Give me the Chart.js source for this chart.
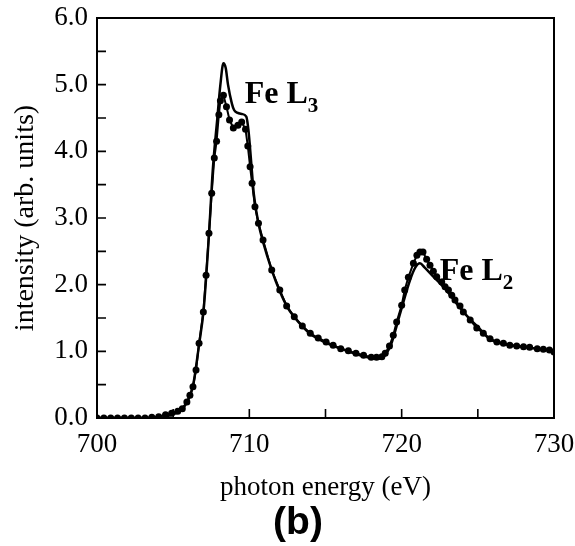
<!DOCTYPE html>
<html>
<head>
<meta charset="utf-8">
<script src="https://cdn.jsdelivr.net/npm/chart.js@4/dist/chart.umd.min.js"></script>
<style>
  html, body { margin: 0; padding: 0; background: #fff; }
  #spectrum { display: block; }
</style>
</head>
<body>
<canvas id="spectrum" width="575" height="546"></canvas>
<script>
// measured XAS spectrum (dots) and calculated spectrum (solid line)
const measEnergy = [
  700.0, 700.45, 700.9, 701.35, 701.8, 702.25, 702.7, 703.15, 703.6, 704.05,
  704.5, 704.9, 705.3, 705.6, 705.9, 706.1, 706.3, 706.5, 706.7, 706.98,
  707.16, 707.35, 707.53, 707.7, 707.85, 708.0, 708.1, 708.3, 708.5, 708.7,
  708.95, 709.25, 709.5, 709.75, 709.9, 710.05, 710.18, 710.37, 710.6, 710.9,
  711.47, 712.0, 712.45, 712.95, 713.48, 714.0, 714.52, 715.04, 715.5, 716.0,
  716.5, 717.0, 717.5, 718.0, 718.35, 718.7, 718.92, 719.2, 719.45, 719.67,
  720.0, 720.2, 720.44, 720.77, 721.0, 721.2, 721.4, 721.64, 721.86, 722.08,
  722.3, 722.63, 722.85, 723.07, 723.29, 723.5, 723.83, 724.05, 724.5, 724.93,
  725.36, 725.8, 726.25, 726.68, 727.1, 727.55, 728.0, 728.4, 728.9, 729.3,
  729.7, 730.0
];
const measIntensity = [
  0.00, 0.00, 0.00, 0.00, 0.00, 0.00, 0.00, 0.00, 0.01, 0.02,
  0.05, 0.07, 0.10, 0.14, 0.24, 0.34, 0.47, 0.72, 1.12, 1.59,
  2.14, 2.77, 3.37, 3.90, 4.15, 4.55, 4.76, 4.84, 4.67, 4.47,
  4.35, 4.39, 4.44, 4.33, 4.08, 3.77, 3.52, 3.17, 2.92, 2.67,
  2.22, 1.92, 1.68, 1.52, 1.38, 1.27, 1.20, 1.14, 1.09, 1.04,
  1.01, 0.97, 0.94, 0.91, 0.91, 0.92, 0.97, 1.08, 1.24, 1.44,
  1.69, 1.92, 2.11, 2.32, 2.44, 2.49, 2.49, 2.38, 2.29, 2.20,
  2.12, 2.04, 1.97, 1.92, 1.84, 1.77, 1.68, 1.59, 1.47, 1.35,
  1.27, 1.19, 1.14, 1.12, 1.09, 1.08, 1.07, 1.06, 1.04, 1.03,
  1.02, 0.99
];

const calcEnergy = [
  700.0, 704.0, 704.8, 705.4, 705.9, 706.3, 706.7, 707.0, 707.35, 707.6,
  707.9, 708.1, 708.3, 708.45, 708.6, 708.85, 709.0, 709.2, 709.5, 709.8,
  709.95, 710.1, 710.3, 710.6, 710.9, 711.5, 712.0, 712.5, 713.0, 713.5,
  714.0, 714.5, 715.0, 716.0, 717.0, 718.0, 718.5, 718.9, 719.3, 719.9,
  720.55, 720.9, 721.2, 721.5, 722.08, 722.6, 723.2, 723.8, 724.3, 725.2,
  725.8, 726.5, 727.5, 728.5, 729.5, 730.0
];
const calcIntensity = [
  0.00, 0.00, 0.04, 0.10, 0.23, 0.48, 1.10, 1.62, 2.75, 3.72,
  4.50, 5.00, 5.32, 5.25, 5.00, 4.72, 4.62, 4.58, 4.56, 4.52,
  4.30, 3.90, 3.35, 2.92, 2.64, 2.20, 1.90, 1.66, 1.50, 1.37,
  1.26, 1.19, 1.13, 1.04, 0.96, 0.90, 0.89, 0.94, 1.10, 1.57,
  2.07, 2.26, 2.32, 2.26, 2.12, 2.00, 1.84, 1.66, 1.53, 1.32,
  1.18, 1.12, 1.08, 1.05, 1.02, 1.00
];

const xLabelled = [700, 710, 720, 730];
const peakNames = [
  { text: 'Fe L', sub: '3', x: 709.7, y: 4.72 },
  { text: 'Fe L', sub: '2', x: 722.5, y: 2.07 }
];

const SERIF = "'Liberation Serif', 'Times New Roman', serif";

const toPoints = (xs, ys) => xs.map((x, i) => ({ x, y: ys[i] }));

// frame on all four sides plus ticks pointing into the plot
const frameAndTicks = {
  id: 'frameAndTicks',
  afterDatasetsDraw(chart) {
    const { ctx, chartArea: a, scales } = chart;
    const len = 9;
    ctx.save();
    ctx.strokeStyle = '#000';
    ctx.lineWidth = 2;
    ctx.beginPath();
    ctx.rect(a.left, a.top, a.right - a.left, a.bottom - a.top);
    ctx.stroke();
    ctx.lineWidth = 1.6;
    ctx.beginPath();
    scales.x.ticks.forEach(t => {
      const px = scales.x.getPixelForValue(t.value);
      ctx.moveTo(px, a.bottom);
      ctx.lineTo(px, a.bottom - len);
    });
    scales.y.ticks.forEach(t => {
      const py = scales.y.getPixelForValue(t.value);
      ctx.moveTo(a.left, py);
      ctx.lineTo(a.left + len, py);
    });
    ctx.stroke();
    ctx.restore();
  }
};

// "Fe L3" / "Fe L2" edge names with subscripts, and the panel tag underneath
const peakLabels = {
  id: 'peakLabels',
  afterDatasetsDraw(chart) {
    const { ctx, scales } = chart;
    ctx.save();
    ctx.fillStyle = '#000';
    ctx.textBaseline = 'alphabetic';
    ctx.textAlign = 'left';
    peakNames.forEach(p => {
      const px = scales.x.getPixelForValue(p.x);
      const py = scales.y.getPixelForValue(p.y);
      ctx.font = 'bold 32px ' + SERIF;
      ctx.fillText(p.text, px, py);
      const w = ctx.measureText(p.text).width;
      ctx.font = 'bold 21px ' + SERIF;
      ctx.fillText(p.sub, px + w, py + 9);
    });
    ctx.font = "bold 39px 'Liberation Sans', Arial, sans-serif";
    ctx.textAlign = 'center';
    ctx.textBaseline = 'middle';
    ctx.fillText('(b)', 298, 523);
    ctx.restore();
  }
};

new Chart(document.getElementById('spectrum'), {
  type: 'line',
  data: {
    datasets: [
      {
        label: 'experiment',
        data: toPoints(measEnergy, measIntensity),
        borderColor: '#000',
        backgroundColor: '#000',
        borderWidth: 2,
        tension: 0,
        pointRadius: 3.5,
        pointBorderWidth: 0,
        pointBackgroundColor: '#000'
      },
      {
        label: 'calculation',
        data: toPoints(calcEnergy, calcIntensity),
        borderColor: '#000',
        borderWidth: 2.5,
        cubicInterpolationMode: 'monotone',
        pointRadius: 0
      }
    ]
  },
  options: {
    responsive: false,
    animation: false,
    devicePixelRatio: 1,
    layout: { padding: { top: 18, right: 21, left: 0, bottom: 0 } },
    plugins: {
      legend: { display: false },
      tooltip: { enabled: false }
    },
    scales: {
      x: {
        type: 'linear',
        min: 700,
        max: 730,
        grid: { display: false, drawTicks: false },
        border: { display: true, color: '#000', width: 2 },
        ticks: {
          stepSize: 5,
          autoSkip: false,
          maxRotation: 0,
          padding: 11,
          color: '#000',
          font: { family: SERIF, size: 27 },
          callback: v => (xLabelled.includes(v) ? String(v) : '')
        },
        title: {
          display: true,
          text: 'photon energy (eV)',
          color: '#000',
          font: { family: SERIF, size: 27, lineHeight: 0.9 },
          padding: { top: 0, bottom: 46 }
        },
        afterFit: s => {
          s.height = 128;
          s.paddingLeft = 0;
          s.paddingRight = 0;
        }
      },
      y: {
        min: 0,
        max: 6,
        grid: { display: false, drawTicks: false },
        border: { display: true, color: '#000', width: 2 },
        ticks: {
          stepSize: 0.5,
          autoSkip: false,
          padding: 9,
          color: '#000',
          font: { family: SERIF, size: 27 },
          callback: v => (v % 1 === 0 ? v.toFixed(1) : '')
        },
        title: {
          display: true,
          text: 'intensity (arb. units)',
          color: '#000',
          font: { family: SERIF, size: 28, lineHeight: 1.2 },
          padding: { top: 9, bottom: 0 }
        },
        afterFit: s => {
          s.width = 97;
          s.paddingTop = 0;
          s.paddingBottom = 0;
        }
      }
    }
  },
  plugins: [frameAndTicks, peakLabels]
});
</script>
</body>
</html>
